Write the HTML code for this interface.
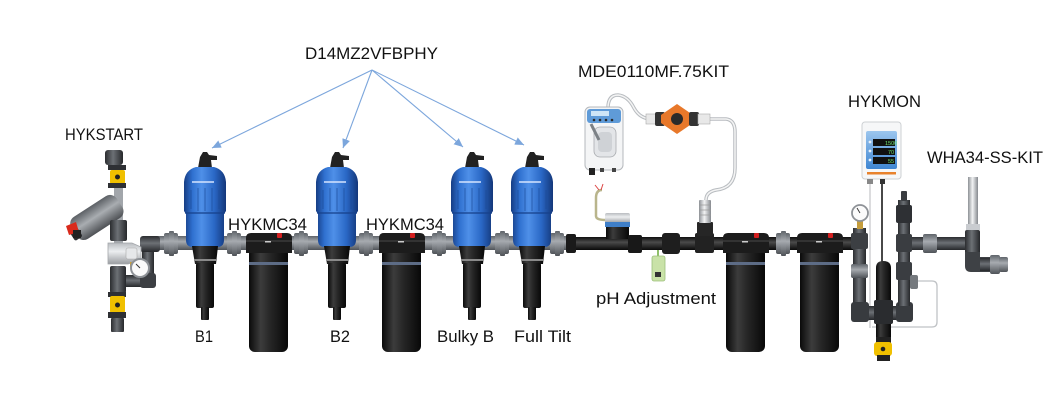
<!DOCTYPE html>
<html><head><meta charset="utf-8"><style>
html,body{margin:0;padding:0;background:#fff;}
svg{display:block;}
text{font-family:"Liberation Sans",Arial,sans-serif;fill:#111;}
</style></head><body>
<svg width="1056" height="419" viewBox="0 0 1056 419" xmlns="http://www.w3.org/2000/svg">
<defs>
 <linearGradient id="blueG" x1="0" x2="1" y1="0" y2="0">
  <stop offset="0" stop-color="#163d84"/><stop offset="0.2" stop-color="#2f70cf"/><stop offset="0.42" stop-color="#4f90e8"/><stop offset="0.72" stop-color="#2a68c6"/><stop offset="1" stop-color="#14377a"/>
 </linearGradient>
 <linearGradient id="blackG" x1="0" x2="1" y1="0" y2="0">
  <stop offset="0" stop-color="#0a0a0a"/><stop offset="0.3" stop-color="#3c3c3c"/><stop offset="0.55" stop-color="#262626"/><stop offset="1" stop-color="#080808"/>
 </linearGradient>
 <linearGradient id="gPipeV" x1="0" x2="0" y1="0" y2="1">
  <stop offset="0" stop-color="#5f646a"/><stop offset="0.4" stop-color="#a7abb0"/><stop offset="1" stop-color="#4f5358"/>
 </linearGradient>
 <linearGradient id="bPipeV" x1="0" x2="0" y1="0" y2="1">
  <stop offset="0" stop-color="#0e0e0e"/><stop offset="0.4" stop-color="#4a4a4a"/><stop offset="1" stop-color="#0a0a0a"/>
 </linearGradient>
 <linearGradient id="dgH" x1="0" x2="1" y1="0" y2="0">
  <stop offset="0" stop-color="#2b2d30"/><stop offset="0.45" stop-color="#6c7075"/><stop offset="1" stop-color="#26282b"/>
 </linearGradient>
 <linearGradient id="dgV" x1="0" x2="0" y1="0" y2="1">
  <stop offset="0" stop-color="#2b2d30"/><stop offset="0.45" stop-color="#6c7075"/><stop offset="1" stop-color="#26282b"/>
 </linearGradient>
 <linearGradient id="silV" x1="0" x2="0" y1="0" y2="1">
  <stop offset="0" stop-color="#b9bcc0"/><stop offset="0.4" stop-color="#eceef0"/><stop offset="1" stop-color="#9a9da1"/>
 </linearGradient>
 <linearGradient id="silH" x1="0" x2="1" y1="0" y2="0">
  <stop offset="0" stop-color="#8d9196"/><stop offset="0.45" stop-color="#f2f3f4"/><stop offset="1" stop-color="#85898e"/>
 </linearGradient>
 <linearGradient id="strG" x1="0" x2="0" y1="0" y2="1">
  <stop offset="0" stop-color="#5c6065"/><stop offset="0.45" stop-color="#a9adb1"/><stop offset="1" stop-color="#4e5155"/>
 </linearGradient>
 <linearGradient id="ctrlG" x1="0" x2="0" y1="0" y2="1">
  <stop offset="0" stop-color="#9cc6ee"/><stop offset="1" stop-color="#3f86d2"/>
 </linearGradient>
 <marker id="ah" markerWidth="9" markerHeight="8" refX="9" refY="4" orient="auto" markerUnits="userSpaceOnUse">
  <path d="M0,0 L9,4 L0,8 Z" fill="#7ca6dc"/>
 </marker>
 <g id="dos">
  <path d="M-7,168 L-5,157 L-2,152 L2,152 L4,155 L12,156 L12,160 L6,160 L7,168 Z" fill="#222"/>
  <path d="M-9,167 L9,167 Q20,170 21,182 L21,211 L19,214 L19,240 Q19,247 12,247 L-12,247 Q-19,247 -19,240 L-19,214 L-21,211 L-21,182 Q-20,170 -9,167 Z" fill="url(#blueG)"/>
  <g stroke="#1b4a98" stroke-width="1" opacity="0.65">
   <line x1="-14" y1="190" x2="-14" y2="209"/><line x1="-7" y1="188" x2="-7" y2="211"/><line x1="0" y1="188" x2="0" y2="211"/><line x1="7" y1="188" x2="7" y2="211"/><line x1="14" y1="190" x2="14" y2="209"/>
  </g>
  <line x1="-20" y1="213" x2="20" y2="213" stroke="#16408a" stroke-width="1.3"/>
  <rect x="-13" y="181" width="22" height="2" fill="#d6e4ff" opacity="0.75"/>
  <path d="M-13,246 L13,246 L11,264 L-10,264 Z" fill="url(#blackG)"/>
  <rect x="-11" y="259" width="22" height="2" fill="#8a8a8a"/>
  <rect x="-9" y="263" width="18" height="45" rx="2" fill="url(#blackG)"/>
  <rect x="-4" y="307" width="8" height="13" rx="1" fill="url(#blackG)"/>
 </g>
 <g id="uni">
  <rect x="-7" y="233" width="14" height="21" rx="2" fill="url(#gPipeV)"/>
  <rect x="-2" y="231" width="5" height="25" rx="1" fill="url(#gPipeV)"/>
 </g>
 <g id="filt">
  <rect x="-20" y="248" width="39" height="104" rx="6" fill="url(#blackG)"/>
  <rect x="-20" y="262" width="39" height="3" fill="#5d6c86"/>
  <path d="M-23,253 L-23,238 Q-23,233 -18,233 L18,233 Q23,233 23,238 L23,253 Z" fill="#1c1c1c"/>
  <rect x="-23" y="240" width="46" height="2" fill="#333"/>
  <rect x="8" y="233" width="5" height="5" rx="1" fill="#d42020"/>
  <rect x="-4" y="241" width="6" height="1.5" fill="#ccc"/>
 </g>
</defs>

<!-- Labels -->
<text x="305" y="59" font-size="17" textLength="133" lengthAdjust="spacingAndGlyphs">D14MZ2VFBPHY</text>
<text x="65" y="140" font-size="16.5" textLength="78" lengthAdjust="spacingAndGlyphs">HYKSTART</text>
<text x="228" y="230" font-size="16.5" textLength="79" lengthAdjust="spacingAndGlyphs">HYKMC34</text>
<text x="366" y="230" font-size="16.5" textLength="78" lengthAdjust="spacingAndGlyphs">HYKMC34</text>
<text x="195" y="342" font-size="16.5" textLength="18" lengthAdjust="spacingAndGlyphs">B1</text>
<text x="330" y="342" font-size="16.5" textLength="20" lengthAdjust="spacingAndGlyphs">B2</text>
<text x="437" y="342" font-size="16.5" textLength="57" lengthAdjust="spacingAndGlyphs">Bulky B</text>
<text x="514" y="342" font-size="16.5" textLength="57" lengthAdjust="spacingAndGlyphs">Full Tilt</text>
<text x="578" y="77" font-size="16.5" textLength="151" lengthAdjust="spacingAndGlyphs">MDE0110MF.75KIT</text>
<text x="596" y="304" font-size="16.5" textLength="120" lengthAdjust="spacingAndGlyphs">pH Adjustment</text>
<text x="848" y="107" font-size="16.5" textLength="73" lengthAdjust="spacingAndGlyphs">HYKMON</text>
<text x="927" y="163" font-size="16.5" textLength="116" lengthAdjust="spacingAndGlyphs">WHA34-SS-KIT</text>

<!-- Arrows -->
<g stroke="#7ca6dc" stroke-width="1.1" fill="none" marker-end="url(#ah)">
 <line x1="372" y1="70" x2="212" y2="148"/>
 <line x1="372" y1="70" x2="343" y2="148"/>
 <line x1="372" y1="70" x2="463" y2="147"/>
 <line x1="372" y1="70" x2="524" y2="145"/>
</g>

<!-- Main pipes -->
<rect x="150" y="236" width="418" height="14" fill="url(#gPipeV)"/>
<rect x="566" y="237" width="292" height="13" fill="url(#bPipeV)"/>

<!-- HYKSTART -->
<rect x="142" y="240" width="12" height="47" fill="url(#dgH)"/>
<rect x="140" y="236" width="20" height="16" rx="3" fill="url(#dgV)"/>
<rect x="124" y="275" width="30" height="12" fill="url(#dgV)"/>
<rect x="140" y="273" width="16" height="15" rx="3" fill="#3c3f43"/>
<rect x="114" y="186" width="9" height="60" fill="#a2a6ab"/>
<rect x="105" y="150" width="18" height="15" rx="3" fill="url(#dgH)"/>
<rect x="108" y="165" width="18" height="5" fill="#2e3034"/>
<rect x="110" y="170" width="15" height="14" rx="2" fill="#f0c000"/>
<circle cx="117.5" cy="177" r="2.5" fill="#222"/>
<rect x="108" y="183" width="18" height="5" fill="#2e3034"/>
<g transform="rotate(-33 96 218)">
 <rect x="70" y="205" width="54" height="26" rx="8" fill="url(#strG)"/>
 <rect x="66" y="210" width="9" height="16" rx="2" fill="#2c2e31"/>
</g>
<path d="M66,226 L76,222 L79,232 L69,235 Z" fill="#d92a1c"/>
<rect x="73" y="230" width="8" height="8" fill="#222"/>
<rect x="110" y="220" width="17" height="21" rx="2" fill="url(#dgH)"/>
<path d="M108,243 L132,243 L141,247 L141,260 L128,264 L108,264 Z" fill="url(#silV)" stroke="#a3a6aa" stroke-width="0.8"/>
<rect x="126" y="248" width="11" height="11" rx="2" fill="#e6e8ea" stroke="#aaa" stroke-width="0.6"/>
<rect x="130" y="262" width="5" height="5" fill="#c8a040"/>
<circle cx="140" cy="268" r="9" fill="#fafafa" stroke="#8e9297" stroke-width="2"/>
<line x1="140" y1="268" x2="136" y2="264" stroke="#333" stroke-width="1"/>
<rect x="110" y="266" width="16" height="27" rx="2" fill="url(#dgH)"/>
<rect x="108" y="292" width="18" height="5" fill="#2e3034"/>
<rect x="110" y="296" width="15" height="17" rx="2" fill="#f0c000"/>
<circle cx="117.5" cy="305" r="2.5" fill="#222"/>
<rect x="108" y="312" width="18" height="6" fill="#2e3034"/>
<rect x="111" y="318" width="13" height="14" rx="1" fill="url(#dgH)"/>

<!-- Unions -->
<use href="#uni" x="171"/>
<use href="#uni" x="234"/>
<use href="#uni" x="301"/>
<use href="#uni" x="366"/>
<use href="#uni" x="439"/>
<use href="#uni" x="502"/>
<use href="#uni" x="557"/>
<use href="#uni" x="783"/>

<!-- Filters -->
<use href="#filt" x="269"/>
<use href="#filt" x="402"/>
<use href="#filt" x="746"/>
<use href="#filt" x="820"/>

<!-- Dosatrons -->
<use href="#dos" x="205"/>
<use href="#dos" x="337"/>
<use href="#dos" x="472"/>
<use href="#dos" x="532"/>

<!-- pH section -->
<rect x="566" y="234" width="10" height="19" rx="2" fill="#1a1a1a"/>
<path d="M602,190 Q596,190 596,198 L596,216 Q596,220 606,220" fill="none" stroke="#b9b58c" stroke-width="2.5"/>
<path d="M599,190 L595,185 M601,190 L603,184" stroke="#d44" stroke-width="1"/>
<rect x="605" y="213" width="25" height="10" rx="2" fill="url(#silV)"/>
<rect x="605" y="222" width="25" height="5" fill="#3f7fc8"/>
<rect x="606" y="227" width="23" height="12" fill="url(#blackG)"/>
<rect x="628" y="235" width="14" height="18" rx="2" fill="#181818"/>
<line x1="658" y1="250" x2="658" y2="257" stroke="#8fbf6a" stroke-width="2"/>
<rect x="652" y="256" width="13" height="25" rx="2" fill="#c9e2a8" stroke="#9cc07a" stroke-width="0.8"/>
<rect x="655" y="272" width="6" height="5" fill="#333"/>
<rect x="662" y="233" width="18" height="21" rx="3" fill="#1e1e1e"/>
<rect x="695" y="233" width="19" height="20" rx="2" fill="#222"/>
<rect x="697" y="222" width="16" height="14" rx="1" fill="#262626"/>
<rect x="699" y="200" width="12" height="23" rx="1" fill="url(#silH)"/>
<g stroke="#999" stroke-width="0.7"><line x1="699" y1="205" x2="711" y2="205"/><line x1="699" y1="210" x2="711" y2="210"/><line x1="699" y1="215" x2="711" y2="215"/></g>
<!-- tubing -->
<path d="M608,108 Q608,95 618,95 Q628,96 634,108 Q640,119 652,119" fill="none" stroke="#b8bcc0" stroke-width="3.5"/>
<path d="M608,108 Q608,95 618,95 Q628,96 634,108 Q640,119 652,119" fill="none" stroke="#f4f4f4" stroke-width="1.5"/>
<path d="M710,119 L726,119 Q735,120 735,132 L735,168 Q735,188 716,190 Q706,192 706,200" fill="none" stroke="#b8bcc0" stroke-width="3.5"/>
<path d="M710,119 L726,119 Q735,120 735,132 L735,168 Q735,188 716,190 Q706,192 706,200" fill="none" stroke="#f4f4f4" stroke-width="1.5"/>
<!-- orange valve -->
<rect x="646" y="114" width="10" height="10" fill="#e8e8e8" stroke="#aaa" stroke-width="0.6"/>
<rect x="655" y="112" width="10" height="14" rx="2" fill="#333"/>
<path d="M677,104 L693,115 L693,123 L677,134 L661,123 L661,115 Z" fill="#e8782a"/>
<circle cx="677" cy="119" r="6" fill="#2a2a2a"/>
<rect x="689" y="112" width="10" height="14" rx="2" fill="#333"/>
<rect x="698" y="114" width="12" height="10" fill="#e8e8e8" stroke="#aaa" stroke-width="0.6"/>
<!-- pump -->
<rect x="585" y="107" width="38" height="63" rx="5" fill="#f4f5f6" stroke="#b5b8bc" stroke-width="1"/>
<rect x="587" y="109" width="34" height="14" rx="3" fill="#5f9bd8"/>
<rect x="591" y="111" width="18" height="5" fill="#cfe6f7"/>
<g fill="#2a2a2a"><circle cx="594" cy="120" r="1.3"/><circle cx="600" cy="120" r="1.3"/><circle cx="606" cy="120" r="1.3"/><circle cx="612" cy="120" r="1.3"/></g>
<rect x="594" y="127" width="22" height="30" rx="6" fill="#e3e5e8" stroke="#a8abaf" stroke-width="0.8"/>
<rect x="598" y="132" width="14" height="20" rx="4" fill="#cfd2d6"/>
<path d="M591,124 L599,140" stroke="#7c8186" stroke-width="3"/>
<rect x="589" y="168" width="6" height="7" fill="#222"/>
<rect x="600" y="168" width="4" height="4" fill="#444"/>
<rect x="612" y="168" width="4" height="4" fill="#444"/>

<!-- HYKMON -->
<rect x="843" y="237" width="14" height="13" fill="url(#bPipeV)"/>
<line x1="870" y1="180" x2="870" y2="328" stroke="#c8cacd" stroke-width="1.3"/>
<path d="M916,281 L932,281 Q937,281 937,286 L937,322 Q937,327 932,327 L872,327" fill="none" stroke="#bfc2c5" stroke-width="1.3"/>
<rect x="853" y="228" width="13" height="92" fill="url(#dgH)"/>
<rect x="857" y="221" width="6" height="8" fill="#c59d3c"/>
<circle cx="860" cy="213" r="8" fill="#fbfbfb" stroke="#8e9297" stroke-width="1.8"/>
<line x1="860" y1="213" x2="857" y2="208" stroke="#333" stroke-width="0.9"/>
<rect x="851" y="233" width="17" height="16" rx="2" fill="#3c3f43"/>
<rect x="851" y="264" width="17" height="14" rx="2" fill="url(#gPipeV)"/>
<rect x="853" y="306" width="58" height="14" fill="url(#dgV)"/>
<rect x="851" y="302" width="18" height="20" rx="3" fill="#383b3f"/>
<rect x="896" y="302" width="17" height="20" rx="3" fill="#383b3f"/>
<rect x="898" y="200" width="12" height="106" fill="url(#dgH)"/>
<rect x="901" y="191" width="6" height="10" rx="1" fill="#3a3d41"/>
<rect x="896" y="205" width="16" height="18" rx="2" fill="#2e3034"/>
<rect x="910" y="237" width="58" height="13" fill="url(#dgV)"/>
<rect x="896" y="234" width="16" height="18" rx="2" fill="#3a3d41"/>
<rect x="923" y="234" width="14" height="19" rx="2" fill="url(#gPipeV)"/>
<rect x="896" y="262" width="16" height="18" rx="2" fill="#3a3d41"/>
<rect x="910" y="275" width="8" height="14" rx="2" fill="#75797e"/>
<line x1="882" y1="180" x2="882" y2="262" stroke="#1a1a1a" stroke-width="1.6"/>
<path d="M876,340 L876,268 Q876,261 883,261 Q891,261 891,268 L891,340 Z" fill="url(#blackG)"/>
<rect x="874" y="300" width="19" height="24" rx="2" fill="#2a2c2f"/>
<rect x="876" y="337" width="15" height="7" fill="#222"/>
<rect x="874" y="342" width="18" height="14" rx="3" fill="#f0c000"/>
<circle cx="883" cy="349" r="2.3" fill="#222"/>
<rect x="877" y="355" width="13" height="6" fill="#222"/>
<!-- controller -->
<rect x="862" y="122" width="39" height="57" rx="3" fill="#f6f7f8" stroke="#cdd0d3" stroke-width="1"/>
<rect x="866" y="131" width="31" height="38" rx="2" fill="url(#ctrlG)"/>
<rect x="873" y="139" width="22" height="7" fill="#111"/>
<rect x="873" y="148" width="22" height="7" fill="#111"/>
<rect x="873" y="157" width="22" height="7" fill="#111"/>
<text x="885" y="145" font-size="5.5" style="fill:#6fe36f">1500</text>
<text x="888" y="154" font-size="5.5" style="fill:#6fe36f">70</text>
<text x="888" y="163" font-size="5.5" style="fill:#6fe36f">55</text>
<g fill="#e8f1fb"><circle cx="870" cy="142" r="1.4"/><circle cx="870" cy="151" r="1.4"/><circle cx="870" cy="160" r="1.4"/></g>
<rect x="867" y="172" width="29" height="2.5" fill="#e8822c"/>
<rect x="867" y="179" width="6" height="5" fill="#888"/>
<rect x="880" y="179" width="5" height="5" fill="#333"/>
<!-- WHA34 -->
<rect x="968" y="177" width="10" height="54" fill="url(#silH)"/>
<rect x="966" y="224" width="14" height="6" fill="#c9ccd0"/>
<rect x="965" y="230" width="15" height="24" rx="2" fill="url(#dgH)"/>
<path d="M965,252 L965,266 Q965,272 971,272 L992,272 L992,257 L980,257 L980,252 Z" fill="#3e4145"/>
<rect x="980" y="258" width="12" height="13" fill="url(#dgV)"/>
<rect x="990" y="255" width="10" height="19" rx="2" fill="url(#gPipeV)"/>
<rect x="999" y="257" width="9" height="15" rx="2" fill="url(#gPipeV)"/>
</svg>
</body></html>
